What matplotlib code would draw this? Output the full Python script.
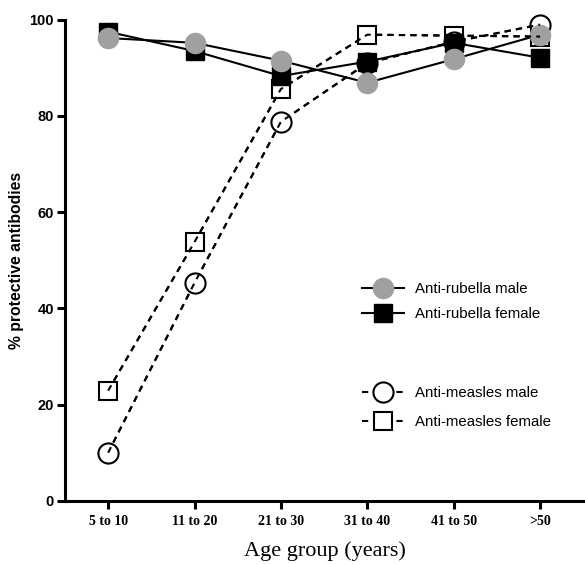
import matplotlib
matplotlib.use("Agg")
import matplotlib.pyplot as plt
from matplotlib.lines import Line2D

age_groups = ["5 to 10", "11 to 20", "21 to 30", "31 to 40", "41 to 50", ">50"]
rubella_male = [96.2, 95.2, 91.5, 86.9, 91.8, 96.9]
rubella_female = [97.5, 93.5, 88.3, 91.3, 95.2, 92.1]
measles_male = [10.0, 45.3, 78.8, 91.0, 95.4, 99.0]
measles_female = [22.9, 53.8, 85.6, 96.9, 96.7, 96.5]
y_ticks = [0, 20, 40, 60, 80, 100]

fig = plt.figure(figsize=(5.85, 5.64), dpi=100)
ax = fig.add_axes([0.111, 0.112, 0.889, 0.853])

x = list(range(len(age_groups)))
lw = 1.5
dash = (0, (3, 2.5))
ax.plot(x, measles_female, linestyle=dash, color="black", lw=lw,
        marker="s", markersize=13, markerfacecolor="white", markeredgecolor="black",
        markeredgewidth=1.5, clip_on=False, zorder=3)
ax.plot(x, measles_male, linestyle=dash, color="black", lw=lw,
        marker="o", markersize=14.5, markerfacecolor="white", markeredgecolor="black",
        markeredgewidth=1.5, clip_on=False, zorder=3)
ax.plot(x, rubella_female, linestyle="-", color="black", lw=lw,
        marker="s", markersize=13, markerfacecolor="black", markeredgecolor="black",
        clip_on=False, zorder=4)
ax.plot(x, rubella_male, linestyle="-", color="black", lw=lw,
        marker="o", markersize=14.5, markerfacecolor="#a0a0a2", markeredgecolor="#a0a0a2",
        clip_on=False, zorder=5)
ax.plot(x, measles_female, linestyle=dash, color="black", lw=lw, zorder=6, clip_on=False)
ax.plot(x, measles_male, linestyle=dash, color="black", lw=lw, zorder=6, clip_on=False)

ax.set_xlim(-0.5, 5.52)
ax.set_ylim(0, 100)
ax.set_yticks(y_ticks)
ax.set_xticks(x)
ax.set_xticklabels(age_groups, fontfamily="Liberation Serif", fontweight="bold", fontsize=10)
ax.set_yticklabels([str(v) for v in y_ticks], fontfamily="Liberation Sans", fontweight="bold", fontsize=10.5)

for s in ["top", "right"]:
    ax.spines[s].set_visible(False)
for s in ["left", "bottom"]:
    ax.spines[s].set_linewidth(2.2)
ax.tick_params(axis="both", length=6, width=2.2, direction="out", pad=2)
ax.tick_params(axis="x", pad=4.5)

ax.set_ylabel("% protective antibodies", fontfamily="Liberation Sans", fontweight="bold",
              fontsize=11.3, labelpad=4)
ax.set_xlabel("Age group (years)", fontfamily="Liberation Serif", fontsize=16, labelpad=9)

legprops = {"family": "Liberation Sans", "size": 10.8}
h1 = [Line2D([0], [0], color="black", lw=lw, marker="o", markersize=14.5,
             markerfacecolor="#a0a0a2", markeredgecolor="#a0a0a2"),
      Line2D([0], [0], color="black", lw=lw, marker="s", markersize=13,
             markerfacecolor="black", markeredgecolor="black")]
leg1 = ax.legend(h1, ["Anti-rubella male", "Anti-rubella female"], loc="upper left",
                 bbox_to_anchor=(0.545, 0.482), frameon=False, handlelength=2.8,
                 handletextpad=0.75, labelspacing=0.7, prop=legprops)
ax.add_artist(leg1)
h2 = [Line2D([0], [0], color="black", lw=lw, linestyle=dash, marker="o", markersize=14.5,
             markerfacecolor="white", markeredgecolor="black", markeredgewidth=1.5),
      Line2D([0], [0], color="black", lw=lw, linestyle=dash, marker="s", markersize=13,
             markerfacecolor="white", markeredgecolor="black", markeredgewidth=1.5)]
ax.legend(h2, ["Anti-measles male", "Anti-measles female"], loc="upper left",
          bbox_to_anchor=(0.545, 0.267), frameon=False, handlelength=2.8,
          handletextpad=0.75, labelspacing=1.0, prop=legprops)

fig.savefig("out.png", dpi=100)
